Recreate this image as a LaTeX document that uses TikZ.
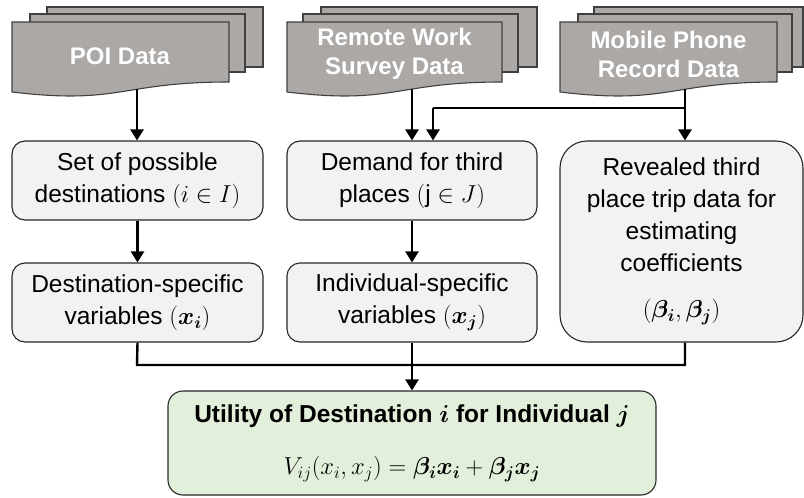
\documentclass[tikz,border=0pt]{standalone}
\usepackage{fix-cm}
\usepackage{amsmath}
\usepackage{bm}
\usepackage{fontspec}
\setmainfont{Liberation Sans}
\usetikzlibrary{arrows.meta}
\definecolor{boxgray}{HTML}{F2F2F2}
\definecolor{docgray}{HTML}{ABA8A6}
\definecolor{docline}{HTML}{404040}
\definecolor{utilgreen}{HTML}{E2EFDA}
\newcommand\mydocs[6]{%
  \filldraw[docsty] (#5,7) rectangle (#6,67);
  \filldraw[docsty] (#3,14) rectangle (#4,72);
  \filldraw[docsty] (#1,22) -- (#2,22) -- (#2,82)
     .. controls ({(#1+#2)/2},82) and ({(#1+#2)/2},105) .. (#1,92) -- cycle;
}
\begin{document}
\begin{tikzpicture}[x=1pt,y=-1pt,
  docsty/.style={fill=docgray,draw=docline,line width=1.1pt},
  doctext/.style={text=white,align=center,font=\bfseries\fontsize{24}{29}\selectfont},
  box/.style={draw=black!85,fill=boxgray,rounded corners=13pt,line width=1.1pt,
     align=center,inner sep=2pt,font=\fontsize{24.5}{32}\selectfont},
  ln/.style={line width=2.4pt},
  arr/.style={line width=2.4pt,-{Triangle[length=11pt,width=13pt]}}]
\useasboundingbox (0,0) rectangle (804,498);

% data sources
\mydocs{12}{229}{30}{245}{47}{263}
\mydocs{287}{502}{303}{518}{321}{537}
\mydocs{560}{777}{578}{792}{594}{803}
\node[doctext] (poi) at (120,56) {POI Data};
\node[doctext] (remote) at (394.5,54) {Remote Work\\Survey Data};
\node[doctext] (mobile) at (668.5,54) {Mobile Phone\\Record Data};

% boxes
\node[box,minimum width=251pt,minimum height=79pt] (set) at (137.5,180.5)
  {Set of possible\\destinations $(i \in I)$};
\node[box,minimum width=250pt,minimum height=79pt] (demand) at (412,180.5)
  {Demand for third\\places $(\mathrm{j} \in J)$};
\node[box,minimum width=251pt,minimum height=79pt] (dest) at (137.5,302.5)
  {Destination-specific\\variables $(\bm{x_i})$};
\node[box,minimum width=250pt,minimum height=79pt] (indiv) at (412,302.5)
  {Individual-specific\\variables $(\bm{x_j})$};
\node[box,rounded corners=27pt,minimum width=243pt,minimum height=201pt] (revealed) at (681.5,241.5)
  {Revealed third\\place trip data for\\estimating\\coefficients\\[14pt]$(\bm{\beta_i},\bm{\beta_j})$};
\node[box,fill=utilgreen,rounded corners=15pt,minimum width=488pt,minimum height=104pt] (util) at (412,443)
  {\textbf{Utility of Destination $\bm{i}$ for Individual $\bm{j}$}\\[20pt]
   $V_{ij}(x_i,x_j) = \bm{\beta_i x_i} + \bm{\beta_j x_j}$};

% connector points
\coordinate (poib) at (137,89);
\coordinate (remb) at (412,89);
\coordinate (mobb) at (685,89);
\coordinate (mbr) at (685,108);
\coordinate (mbl) at (433,108);
\coordinate (jl) at (137,365);
\coordinate (jm) at (412,365);
\coordinate (jr) at (685,365);

% connectors
\draw[arr] (poib) -- (poib |- set.north);
\draw[arr] (remb) -- (remb |- demand.north);
\draw[arr] (mobb) -- (mobb |- revealed.north);
\draw[ln] (mbr) -- (mbl);
\draw[arr] (mbl) -- (mbl |- demand.north);
\draw[arr] (set) -- (dest);
\draw[arr] (demand) -- (indiv);
\draw[ln] (dest.south) -- (jl) -- (jr) -- (jr |- revealed.south);
\draw[ln] (indiv.south) -- (jm);
\draw[arr] (jm) -- (util.north);
\end{tikzpicture}
\end{document}
